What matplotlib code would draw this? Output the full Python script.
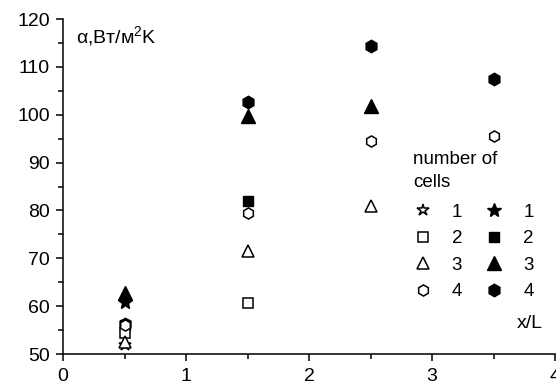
import matplotlib
matplotlib.use("Agg")
import matplotlib.pyplot as plt
from matplotlib.ticker import MultipleLocator

plt.rcParams['font.family'] = ['Liberation Sans', 'DejaVu Sans']
plt.rcParams['mathtext.fontset'] = 'custom'
plt.rcParams['mathtext.rm'] = 'Liberation Sans'
plt.rcParams['mathtext.it'] = 'Liberation Sans:italic'

# x/L positions
x = [0.5, 1.5, 2.5, 3.5]

# open markers (first set), values per number of cells
open_1 = [51.9]                     # star
open_2 = [54.4, 60.6]               # square
open_3 = [52.6, 71.5, 81.0]         # triangle
open_4 = [56.0, 79.5, 94.6, 95.6]   # hexagon

# filled markers (second set)
fill_1 = [60.9]
fill_2 = [56.0, 81.9]
fill_3 = [62.8, 99.7, 101.9]
fill_4 = [56.3, 102.6, 114.3, 107.4]

labels = ['1', '2', '3', '4']
markers = ['*', 's', '^', 'h']
open_sizes = [9, 7, 9, 8]
fill_sizes = [10, 7, 10, 9]

fig = plt.figure(figsize=(5.56, 3.85), dpi=100)
ax = fig.add_axes([0.1133, 0.0805, 0.885, 0.87])

open_series = [open_1, open_2, open_3, open_4]
fill_series = [fill_1, fill_2, fill_3, fill_4]

handles_open = []
handles_fill = []
for ys, m, s, lab in zip(fill_series, markers, fill_sizes, labels):
    h, = ax.plot(x[:len(ys)], ys, linestyle='none', marker=m, markersize=s,
                 markerfacecolor='black', markeredgecolor='black', label=lab, zorder=3)
    handles_fill.append(h)
for ys, m, s, lab in zip(open_series, markers, open_sizes, labels):
    h, = ax.plot(x[:len(ys)], ys, linestyle='none', marker=m, markersize=s,
                 markerfacecolor='white', markeredgecolor='black', markeredgewidth=1.1,
                 label=lab, zorder=4)
    handles_open.append(h)

ax.set_xlim(0, 4)
ax.set_ylim(50, 120)
ax.xaxis.set_major_locator(MultipleLocator(1))
ax.xaxis.set_minor_locator(MultipleLocator(0.5))
ax.yaxis.set_major_locator(MultipleLocator(10))
ax.yaxis.set_minor_locator(MultipleLocator(5))
for s in ['top', 'right']:
    ax.spines[s].set_visible(False)
for s in ['left', 'bottom']:
    ax.spines[s].set_linewidth(1.1)
ax.tick_params(which='major', direction='out', length=5, width=1.1, labelsize=14)
ax.tick_params(axis='y', which='major', pad=4.5)
ax.tick_params(axis='x', which='major', pad=5)
ax.tick_params(which='minor', direction='out', length=3.5, width=1.1)

ax.text(0.027, 0.985, 'α,Вт/м$^{\\mathregular{2}}$K', transform=ax.transAxes, fontsize=14,
        ha='left', va='top')
ax.text(0.949, 0.066, 'x/L', transform=ax.transAxes, fontsize=14,
        ha='center', va='bottom')

leg = ax.legend(handles_open + handles_fill, labels + labels, ncol=2,
                loc='upper left', bbox_to_anchor=(0.712, 0.605),
                title='number of\ncells', title_fontsize=13.5, fontsize=13.5,
                frameon=False, numpoints=1, handlelength=1.0, handletextpad=1.05,
                columnspacing=1.2, labelspacing=0.5, alignment='left',
                borderpad=0, borderaxespad=0)
leg.get_title().set_linespacing(1.45)
leg._legend_box.sep = 9

fig.savefig('out.png', dpi=100)
